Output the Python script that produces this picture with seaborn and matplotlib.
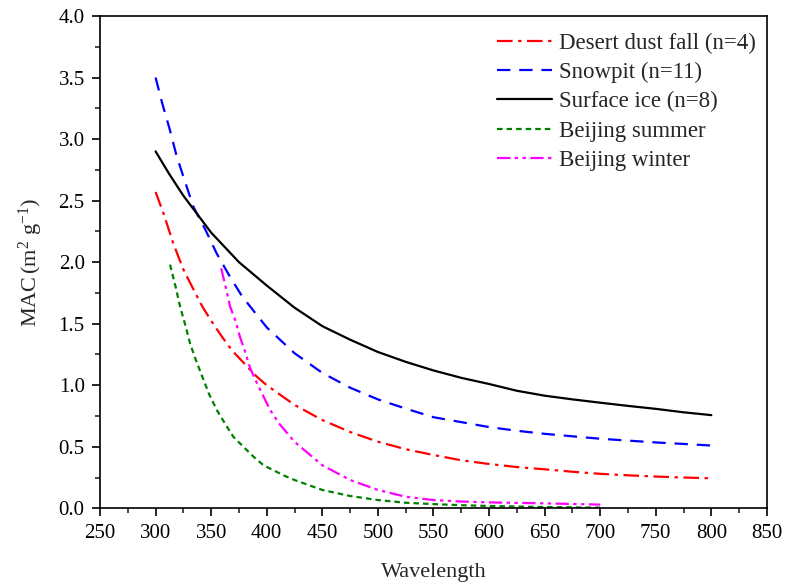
import pandas as pd
import seaborn as sns
import matplotlib.pyplot as plt
from matplotlib.ticker import MultipleLocator

# values
dust_wl = [300, 307, 316, 325, 334, 342, 351, 360, 369, 381, 391, 400, 425, 450, 475, 500,
           525, 550, 575, 600, 625, 650, 675, 700, 725, 750, 775, 800]
dust_mac = [2.57, 2.40, 2.15, 1.94, 1.78, 1.64, 1.51, 1.39, 1.28, 1.165, 1.07, 1.00, 0.84,
            0.717, 0.62, 0.541, 0.48, 0.433, 0.39, 0.36, 0.335, 0.317, 0.297, 0.28,
            0.268, 0.258, 0.25, 0.244]

snow_wl = [300, 306, 313, 319, 327, 334, 345, 355, 367, 378, 400, 425, 450, 475, 500,
           525, 550, 575, 600, 625, 650, 675, 700, 725, 750, 775, 800]
snow_mac = [3.50, 3.29, 3.07, 2.86, 2.64, 2.45, 2.26, 2.07, 1.88, 1.72, 1.47, 1.26, 1.10,
            0.98, 0.885, 0.81, 0.74, 0.70, 0.66, 0.63, 0.605, 0.585, 0.565, 0.55, 0.535,
            0.523, 0.51]

ice_wl = [300, 312, 325, 350, 375, 400, 425, 450, 475, 500, 525, 550,
          575, 600, 625, 650, 675, 700, 725, 750, 775, 800]
ice_mac = [2.90, 2.72, 2.54, 2.24, 2.00, 1.81, 1.63, 1.48, 1.37, 1.27, 1.19, 1.12,
           1.06, 1.01, 0.955, 0.915, 0.885, 0.858, 0.832, 0.808, 0.78, 0.757]

summer_wl = [313, 318, 322, 327, 331, 336, 342, 348, 355, 363, 370, 379, 388, 397, 408,
             417, 425, 450, 475, 500, 525, 550, 575, 600, 650, 700]
summer_mac = [1.98, 1.80, 1.64, 1.48, 1.34, 1.21, 1.07, 0.93, 0.80, 0.68, 0.58, 0.50,
              0.42, 0.35, 0.30, 0.26, 0.23, 0.149, 0.10, 0.067, 0.045, 0.034, 0.025,
              0.019, 0.01, 0.005]

winter_wl = [359, 363, 367, 372, 376, 381, 385, 391, 397, 403, 411, 425, 450, 475, 500,
             525, 550, 575, 600, 650, 700]
winter_mac = [1.95, 1.80, 1.64, 1.52, 1.39, 1.26, 1.14, 1.02, 0.91, 0.80, 0.69, 0.54,
              0.35, 0.23, 0.149, 0.094, 0.067, 0.055, 0.048, 0.04, 0.03]

series = [
    ("Desert dust fall (n=4)", dust_wl, dust_mac, "red", (0, (7, 2.5, 1.5, 2.5))),
    ("Snowpit (n=11)", snow_wl, snow_mac, "blue", (0, (6, 4))),
    ("Surface ice (n=8)", ice_wl, ice_mac, "black", "-"),
    ("Beijing summer", summer_wl, summer_mac, "green", (0, (2.5, 1.8))),
    ("Beijing winter", winter_wl, winter_mac, "magenta", (0, (6, 2, 1.5, 2, 1.5, 2))),
]

sns.set_style("ticks")
plt.rcParams["font.family"] = ["Liberation Serif", "DejaVu Serif"]
plt.rcParams["mathtext.fontset"] = "custom"
plt.rcParams["mathtext.rm"] = "Liberation Serif"
plt.rcParams["mathtext.it"] = "Liberation Serif:italic"

fig = plt.figure(figsize=(7.85, 5.86), dpi=100)
ax = fig.add_axes([0.1274, 0.1326, 0.8496, 0.8401])

for name, wl, mac, color, ls in series:
    df = pd.DataFrame({"wl": wl, "mac": mac})
    sns.lineplot(data=df, x="wl", y="mac", ax=ax, color=color, label=name,
                 linewidth=1.6, linestyle=ls)

ax.set_xlim(250, 850)
ax.set_ylim(0, 4.0)
ax.xaxis.set_major_locator(MultipleLocator(50))
ax.xaxis.set_minor_locator(MultipleLocator(25))
ax.yaxis.set_major_locator(MultipleLocator(0.5))
ax.yaxis.set_minor_locator(MultipleLocator(0.25))
ax.yaxis.set_major_formatter(plt.FormatStrFormatter("%.1f"))
ax.tick_params(which="major", direction="out", length=6, width=1.2, labelsize=15,
               top=False, right=False, colors="black", pad=5)
ax.tick_params(which="minor", direction="out", length=3.5, width=1.2,
               top=False, right=False)
for sp in ax.spines.values():
    sp.set_visible(True)
    sp.set_linewidth(1.2)
    sp.set_color("black")

ax.set_xlabel("Wavelength", fontsize=16, labelpad=15)
ax.set_ylabel(r"MAC$\,$(m$^{2}$ g$^{-1}$)", fontsize=16, labelpad=10)

ax.legend(loc="upper right", bbox_to_anchor=(1.0, 0.99), frameon=False, fontsize=16.5,
          handlelength=2.4, handletextpad=0.3, labelspacing=0.36, borderaxespad=0.1)

fig.savefig("out.png", dpi=100)
